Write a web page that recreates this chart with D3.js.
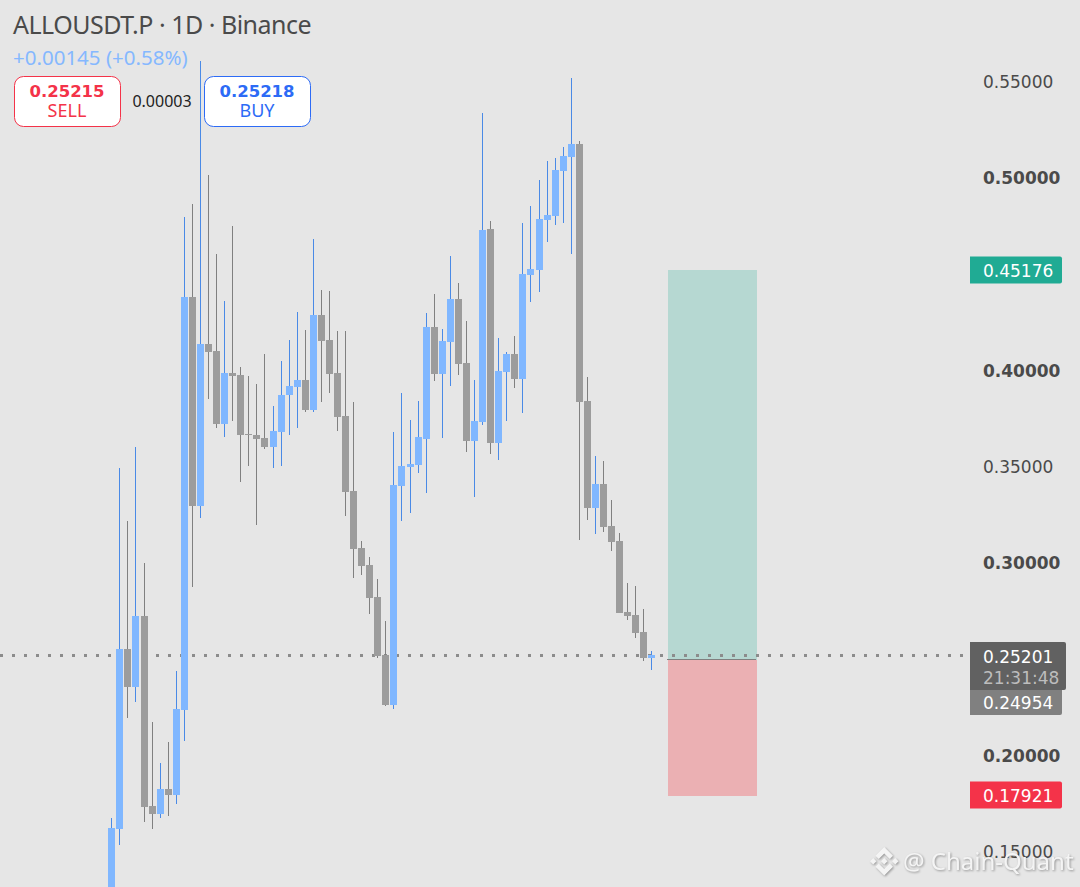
<!DOCTYPE html>
<html>
<head>
<meta charset="utf-8">
<script src="https://cdn.jsdelivr.net/npm/d3@7"></script>
<style>
html,body{margin:0;padding:0;background:#e6e6e6;overflow:hidden}
svg{display:block}
text{font-family:"Noto Sans",sans-serif}
.num{font-family:"DejaVu Sans",sans-serif}
</style>
</head>
<body>
<div class="visHolder"></div>
<script>
// daily candles
const opens=[0.13000,0.16164,0.25509,0.23535,0.27222,0.17358,0.16942,0.18240,0.17929,0.22341,0.43785,0.32934,0.41345,0.40981,0.37191,0.39839,0.39735,0.36672,0.36620,0.36464,0.35997,0.36776,0.38697,0.39112,0.39476,0.37918,0.42850,0.41552,0.39839,0.37607,0.33713,0.30753,0.29870,0.28209,0.25197,0.22601,0.33972,0.34958,0.35062,0.36412,0.42227,0.39787,0.41449,0.43681,0.40358,0.36309,0.37295,0.47316,0.36205,0.39891,0.40826,0.39528,0.44927,0.45187,0.47783,0.47991,0.50327,0.51054,0.51729,0.38385,0.32830,0.34076,0.31895,0.31116,0.27430,0.27274,0.26392,0.25042];
const closes=[0.16216,0.25509,0.23535,0.27222,0.17306,0.16942,0.18240,0.17929,0.22393,0.43785,0.32934,0.41345,0.40929,0.37191,0.39839,0.39683,0.36620,0.36620,0.36412,0.35997,0.36828,0.38697,0.39164,0.39476,0.37918,0.42850,0.41500,0.39787,0.37555,0.33661,0.30701,0.29818,0.28157,0.25145,0.22601,0.34024,0.35010,0.35114,0.36516,0.42227,0.39787,0.41500,0.43681,0.40306,0.36309,0.37347,0.47264,0.36205,0.39943,0.40826,0.39528,0.44979,0.45239,0.47835,0.48042,0.50379,0.51106,0.51729,0.38334,0.32830,0.34076,0.31843,0.31064,0.27378,0.27222,0.26340,0.25042,0.25197];
const highs=[0.16735,0.34906,0.32155,0.35997,0.29974,0.21718,0.19590,0.20680,0.24367,0.47939,0.48614,0.56038,0.50119,0.46017,0.43577,0.47472,0.40150,0.39683,0.39268,0.40826,0.38126,0.40462,0.41552,0.43006,0.42072,0.46796,0.44148,0.44096,0.42020,0.42020,0.38334,0.31116,0.30286,0.29144,0.26963,0.36776,0.38801,0.37399,0.38385,0.42954,0.43941,0.42123,0.45914,0.44512,0.42539,0.39476,0.53339,0.47731,0.41656,0.40929,0.41760,0.47627,0.48510,0.49860,0.50846,0.51002,0.51573,0.55156,0.51885,0.39632,0.35530,0.35270,0.33246,0.31532,0.28936,0.28780,0.27586,0.25405];
const lows=[0.12000,0.15333,0.21926,0.22757,0.16527,0.16164,0.16735,0.16838,0.17462,0.20732,0.28728,0.32310,0.38489,0.36984,0.36516,0.37347,0.34180,0.35010,0.31947,0.35893,0.34906,0.35010,0.36620,0.36984,0.37814,0.37814,0.38334,0.38801,0.36828,0.32414,0.29195,0.29351,0.27326,0.25042,0.22549,0.22393,0.32155,0.32570,0.34647,0.33609,0.39424,0.36464,0.39164,0.39735,0.35737,0.33401,0.37139,0.35634,0.35322,0.37347,0.39060,0.37762,0.43525,0.44044,0.46641,0.47523,0.47627,0.46017,0.31168,0.32207,0.31480,0.31583,0.30597,0.27378,0.27015,0.26080,0.24886,0.24414];

const priceTicks=[0.55,0.50,0.40,0.35,0.30,0.20,0.15];
const boldTicks=[0.50,0.40,0.30,0.20];
const lastPrice=0.25201,entryPrice=0.24954,targetPrice=0.45176,stopPrice=0.17921;
const sellPrice="0.25215",buyPrice="0.25218",spread="0.00003";
const title="ALLOUSDT.P · 1D · Binance",change="+0.00145 (+0.58%)",countdown="21:31:48",credit="@ Chain-Quant";

const w=1080,h=887;
const blueBody="#80b7ff",blueWick="#4a8ae6",greyBody="#9c9c9c",greyWick="#808080",red="#f43349",buyBlue="#2d6bf6";

const svg=d3.select(".visHolder").append("svg").attr("width",w).attr("height",h);
const x=d3.scaleLinear().domain([0,opens.length-1]).range([111.8,651.86]);
const y=d3.scaleLinear().domain([0.15,0.55]).range([851.4,81]);
const py=(v)=>Math.round(y(v));
const px=(i)=>Math.floor(x(i));

// position tool
svg.append("rect").attr("x",668).attr("width",89).attr("y",py(targetPrice)).attr("height",py(entryPrice)-py(targetPrice)).attr("fill","#b6d8d2");
svg.append("rect").attr("x",668).attr("width",89).attr("y",py(entryPrice)).attr("height",py(stopPrice)-py(entryPrice)+1).attr("fill","#ebb0b3");
svg.append("rect").attr("x",667).attr("width",89).attr("y",py(entryPrice)-1).attr("height",1).attr("fill","#808080");

// last price line
svg.append("line").attr("x1",0).attr("x2",963).attr("y1",py(lastPrice)+0.5).attr("y2",py(lastPrice)+0.5)
  .attr("stroke","#8c8c8c").attr("stroke-width",3).attr("stroke-dasharray","3 9");

// candles
const candles=svg.append("g").attr("shape-rendering","crispEdges");
candles.selectAll(".wick").data(opens).enter().append("rect").attr("class","wick")
  .attr("x",(d,i)=>px(i)).attr("width",1)
  .attr("y",(d,i)=>py(highs[i])).attr("height",(d,i)=>py(lows[i])-py(highs[i]))
  .attr("fill",(d,i)=>closes[i]>=d?blueWick:greyWick);
candles.selectAll(".body").data(opens).enter().append("rect").attr("class","body")
  .attr("x",(d,i)=>px(i)-3).attr("width",7)
  .attr("y",(d,i)=>py(Math.max(d,closes[i])))
  .attr("height",(d,i)=>Math.max(1,py(Math.min(d,closes[i]))-py(Math.max(d,closes[i]))))
  .attr("fill",(d,i)=>closes[i]>=d?blueBody:greyBody);

// price axis
const axis=svg.append("g").attr("transform","translate(983,1)")
  .call(d3.axisRight(y).tickValues(priceTicks).tickSize(0).tickPadding(0).tickFormat(d3.format(".5f")));
axis.select(".domain").remove();
axis.selectAll("text").attr("fill","#4a4a4a").attr("font-size",17)
  .style("font-family",'"DejaVu Sans",sans-serif')
  .attr("font-weight",(d)=>boldTicks.includes(d)?700:400);

function priceLabel(v,color,width){
  const cy=py(v);
  svg.append("path").attr("d",`M970 ${cy-13.5}H${970+width-2}q2 0 2 2V${cy+11.5}q0 2 -2 2H970Z`).attr("fill",color);
  svg.append("text").attr("class","num").attr("x",983).attr("y",cy+7).attr("fill","#fff").attr("font-size",17).text(v.toFixed(5));
}
priceLabel(targetPrice,"#20ab94",92);
priceLabel(stopPrice,red,92);
svg.append("path").attr("d","M970 690H1062V713q0 2 -2 2H970Z").attr("fill","#808080");
svg.append("text").attr("class","num").attr("x",983).attr("y",709).attr("fill","#fff").attr("font-size",17).text(entryPrice.toFixed(5));
svg.append("path").attr("d","M970 642H1064q2 0 2 2V688q0 2 -2 2H970Z").attr("fill","#616161");
svg.append("text").attr("class","num").attr("x",983).attr("y",663).attr("fill","#fff").attr("font-size",17).text(lastPrice.toFixed(5));
svg.append("text").attr("class","num").attr("x",983).attr("y",684).attr("fill","#bdbdbd").attr("font-size",17).text(countdown);

// header
svg.append("text").attr("x",13).attr("y",34).attr("fill","#4a4a4a").attr("font-size",25).attr("letter-spacing",-0.5).text(title);
svg.append("text").attr("x",13).attr("y",65).attr("fill","#85b8ff").attr("font-size",20.5).text(change);

function tradeBox(bx,color,price,label){
  svg.append("rect").attr("x",bx+0.5).attr("y",76.5).attr("width",106).attr("height",50).attr("rx",9)
    .attr("fill","#fff").attr("stroke",color);
  svg.append("text").attr("class","num").attr("x",bx+53).attr("y",97).attr("text-anchor","middle").attr("fill",color)
    .attr("font-size",16.5).attr("font-weight",700).text(price);
  svg.append("text").attr("x",bx+53).attr("y",117).attr("text-anchor","middle").attr("fill",color)
    .attr("font-size",18).text(label);
}
tradeBox(14,red,sellPrice,"SELL");
tradeBox(204,buyBlue,buyPrice,"BUY");
svg.append("text").attr("x",162).attr("y",107).attr("text-anchor","middle").attr("fill","#222").attr("font-size",16).text(spread);

// watermark
const mark=svg.append("g").style("filter","drop-shadow(1px 1px 1px rgba(0,0,0,0.35))");
const logo=mark.append("g").attr("transform","translate(870,847) scale(0.225)").attr("fill","#f4f4f4");
logo.append("polygon").attr("points","38.7,53.2 63.3,28.6 87.9,53.2 102.2,38.9 63.3,0 24.4,38.9");
logo.append("polygon").attr("points","38.7,73.4 63.3,98 87.9,73.4 102.2,87.7 63.3,126.6 24.4,87.7");
logo.append("polygon").attr("points","0,63.3 14.3,49 28.6,63.3 14.3,77.6");
logo.append("polygon").attr("points","98,63.3 112.3,49 126.6,63.3 112.3,77.6");
logo.append("polygon").attr("points","63.3,48.8 77.8,63.3 63.3,77.8 48.8,63.3");
mark.append("text").attr("x",903).attr("y",870).attr("fill","#f4f4f4").attr("font-size",24).text(credit);
</script>
</body>
</html>
